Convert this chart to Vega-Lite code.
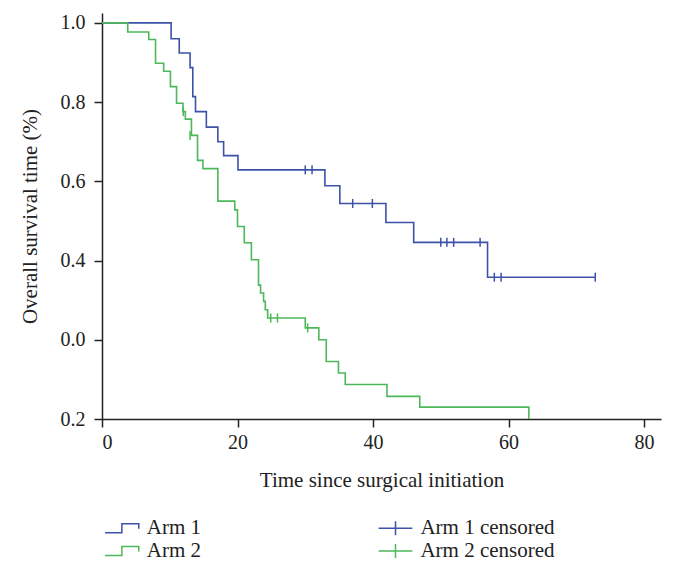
{
  "$schema": "https://vega.github.io/schema/vega-lite/v6.json",
  "width": 559,
  "height": 406,
  "autosize": {"type": "none"},
  "padding": {"left": 102, "top": 13, "right": 15, "bottom": 153},
  "background": "white",
  "config": {
    "view": {"stroke": null},
    "font": "Liberation Serif",
    "axis": {
      "domainColor": "#222222",
      "domainWidth": 1.5,
      "tickColor": "#222222",
      "tickWidth": 1.5,
      "tickSize": 8,
      "labelColor": "#222222",
      "labelFont": "Liberation Serif",
      "labelFontSize": 20,
      "titleColor": "#222222",
      "titleFont": "Liberation Serif",
      "titleFontSize": 21,
      "titleFontWeight": "normal",
      "grid": false
    },
    "legend": {
      "labelFont": "Liberation Serif",
      "labelFontSize": 21,
      "labelColor": "#222222"
    }
  },
  "data": {
    "values": [
      {"t": 0, "s": 1, "series": "Arm 1", "kind": "step"},
      {"t": 10.2, "s": 0.96, "series": "Arm 1", "kind": "step"},
      {"t": 11.4, "s": 0.924, "series": "Arm 1", "kind": "step"},
      {"t": 13.0, "s": 0.887, "series": "Arm 1", "kind": "step"},
      {"t": 13.4, "s": 0.814, "series": "Arm 1", "kind": "step"},
      {"t": 13.8, "s": 0.776, "series": "Arm 1", "kind": "step"},
      {"t": 15.4, "s": 0.737, "series": "Arm 1", "kind": "step"},
      {"t": 17.1, "s": 0.7, "series": "Arm 1", "kind": "step"},
      {"t": 17.95, "s": 0.665, "series": "Arm 1", "kind": "step"},
      {"t": 20.07, "s": 0.629, "series": "Arm 1", "kind": "step"},
      {"t": 32.9, "s": 0.589, "series": "Arm 1", "kind": "step"},
      {"t": 35.1, "s": 0.544, "series": "Arm 1", "kind": "step"},
      {"t": 41.9, "s": 0.496, "series": "Arm 1", "kind": "step"},
      {"t": 46.0, "s": 0.446, "series": "Arm 1", "kind": "step"},
      {"t": 56.9, "s": 0.358, "series": "Arm 1", "kind": "step"},
      {"t": 72.8, "s": 0.358, "series": "Arm 1", "kind": "step"},
      {"t": 0, "s": 1, "series": "Arm 2", "kind": "step"},
      {"t": 3.8, "s": 0.977, "series": "Arm 2", "kind": "step"},
      {"t": 6.9, "s": 0.958, "series": "Arm 2", "kind": "step"},
      {"t": 7.9, "s": 0.898, "series": "Arm 2", "kind": "step"},
      {"t": 9.1, "s": 0.878, "series": "Arm 2", "kind": "step"},
      {"t": 10.1, "s": 0.839, "series": "Arm 2", "kind": "step"},
      {"t": 11.0, "s": 0.797, "series": "Arm 2", "kind": "step"},
      {"t": 11.95, "s": 0.776, "series": "Arm 2", "kind": "step"},
      {"t": 12.3, "s": 0.757, "series": "Arm 2", "kind": "step"},
      {"t": 13.2, "s": 0.716, "series": "Arm 2", "kind": "step"},
      {"t": 14.1, "s": 0.653, "series": "Arm 2", "kind": "step"},
      {"t": 14.9, "s": 0.632, "series": "Arm 2", "kind": "step"},
      {"t": 17.1, "s": 0.55, "series": "Arm 2", "kind": "step"},
      {"t": 19.6, "s": 0.528, "series": "Arm 2", "kind": "step"},
      {"t": 20.0, "s": 0.486, "series": "Arm 2", "kind": "step"},
      {"t": 21.0, "s": 0.445, "series": "Arm 2", "kind": "step"},
      {"t": 22.05, "s": 0.402, "series": "Arm 2", "kind": "step"},
      {"t": 23.1, "s": 0.338, "series": "Arm 2", "kind": "step"},
      {"t": 23.4, "s": 0.318, "series": "Arm 2", "kind": "step"},
      {"t": 23.85, "s": 0.297, "series": "Arm 2", "kind": "step"},
      {"t": 24.1, "s": 0.276, "series": "Arm 2", "kind": "step"},
      {"t": 24.45, "s": 0.255, "series": "Arm 2", "kind": "step"},
      {"t": 30.0, "s": 0.23, "series": "Arm 2", "kind": "step"},
      {"t": 32.0, "s": 0.2, "series": "Arm 2", "kind": "step"},
      {"t": 33.1, "s": 0.145, "series": "Arm 2", "kind": "step"},
      {"t": 34.9, "s": 0.116, "series": "Arm 2", "kind": "step"},
      {"t": 35.9, "s": 0.087, "series": "Arm 2", "kind": "step"},
      {"t": 42.06, "s": 0.057, "series": "Arm 2", "kind": "step"},
      {"t": 46.9, "s": 0.03, "series": "Arm 2", "kind": "step"},
      {"t": 63.0, "s": 0.0, "series": "Arm 2", "kind": "step"},
      {"t": 30.0, "s": 0.629, "series": "Arm 1 censored", "kind": "censor"},
      {"t": 31.0, "s": 0.629, "series": "Arm 1 censored", "kind": "censor"},
      {"t": 37.0, "s": 0.544, "series": "Arm 1 censored", "kind": "censor"},
      {"t": 39.9, "s": 0.544, "series": "Arm 1 censored", "kind": "censor"},
      {"t": 50.0, "s": 0.446, "series": "Arm 1 censored", "kind": "censor"},
      {"t": 50.9, "s": 0.446, "series": "Arm 1 censored", "kind": "censor"},
      {"t": 51.9, "s": 0.446, "series": "Arm 1 censored", "kind": "censor"},
      {"t": 55.8, "s": 0.446, "series": "Arm 1 censored", "kind": "censor"},
      {"t": 57.9, "s": 0.358, "series": "Arm 1 censored", "kind": "censor"},
      {"t": 58.9, "s": 0.358, "series": "Arm 1 censored", "kind": "censor"},
      {"t": 72.8, "s": 0.358, "series": "Arm 1 censored", "kind": "censor"},
      {"t": 12.0, "s": 0.776, "series": "Arm 2 censored", "kind": "censor"},
      {"t": 13.0, "s": 0.716, "series": "Arm 2 censored", "kind": "censor"},
      {"t": 24.9, "s": 0.255, "series": "Arm 2 censored", "kind": "censor"},
      {"t": 25.9, "s": 0.255, "series": "Arm 2 censored", "kind": "censor"},
      {"t": 30.35, "s": 0.23, "series": "Arm 2 censored", "kind": "censor"}
    ]
  },
  "encoding": {
    "x": {
      "field": "t",
      "type": "quantitative",
      "scale": {"domain": [0, 82.5], "nice": false, "zero": false},
      "axis": {
        "title": "Time since surgical initiation",
        "values": [0, 20, 40, 60, 80],
        "tickSize": 8,
        "labelPadding": 5,
        "titlePadding": 17
      }
    },
    "y": {
      "field": "s",
      "type": "quantitative",
      "scale": {"domain": [0, 1.025], "nice": false, "zero": false},
      "axis": {
        "title": "Overall survival time (%)",
        "values": [0, 0.2, 0.4, 0.6, 0.8, 1.0],
        "labelExpr": "datum.value == 0 ? '0.2' : (datum.value == 0.2 ? '0.0' : format(datum.value, '.1f'))",
        "labelPadding": 9,
        "titlePadding": 20
      }
    },
    "color": {
      "field": "series",
      "type": "nominal",
      "scale": {
        "domain": ["Arm 1", "Arm 2", "Arm 1 censored", "Arm 2 censored"],
        "range": ["#3c52a8", "#4cb85a", "#3c52a8", "#4cb85a"]
      },
      "legend": {
        "orient": "none",
        "legendX": 9.4,
        "legendY": 504.5,
        "columns": 2,
        "columnPadding": 173.6,
        "rowPadding": 1,
        "title": null,
        "symbolSize": 225,
        "symbolStrokeWidth": 1.5,
        "symbolFillColor": "transparent",
        "labelOffset": 14.4,
        "encode": {
          "symbols": {
            "update": {
              "fill": {"value": "transparent"},
              "strokeWidth": {"value": 1.5},
              "opacity": {"value": 1},
              "shape": {"signal": "indexof(['Arm 1', 'Arm 2'], datum.value) >= 0 ? 'M-2.25,0.6H0V-0.6H2.25V0.05' : 'M-2.25,0H2.25M0,-0.93V0.93'"}
            }
          }
        }
      }
    }
  },
  "layer": [
    {
      "transform": [{"filter": "datum.kind == 'step'"}],
      "mark": {"type": "line", "interpolate": "step-after", "strokeWidth": 1.6}
    },
    {
      "transform": [{"filter": "datum.kind == 'censor'"}],
      "mark": {"type": "point", "filled": false, "size": 81, "strokeWidth": 1.5, "opacity": 1, "shape": "M0,-1V1"}
    }
  ]
}
